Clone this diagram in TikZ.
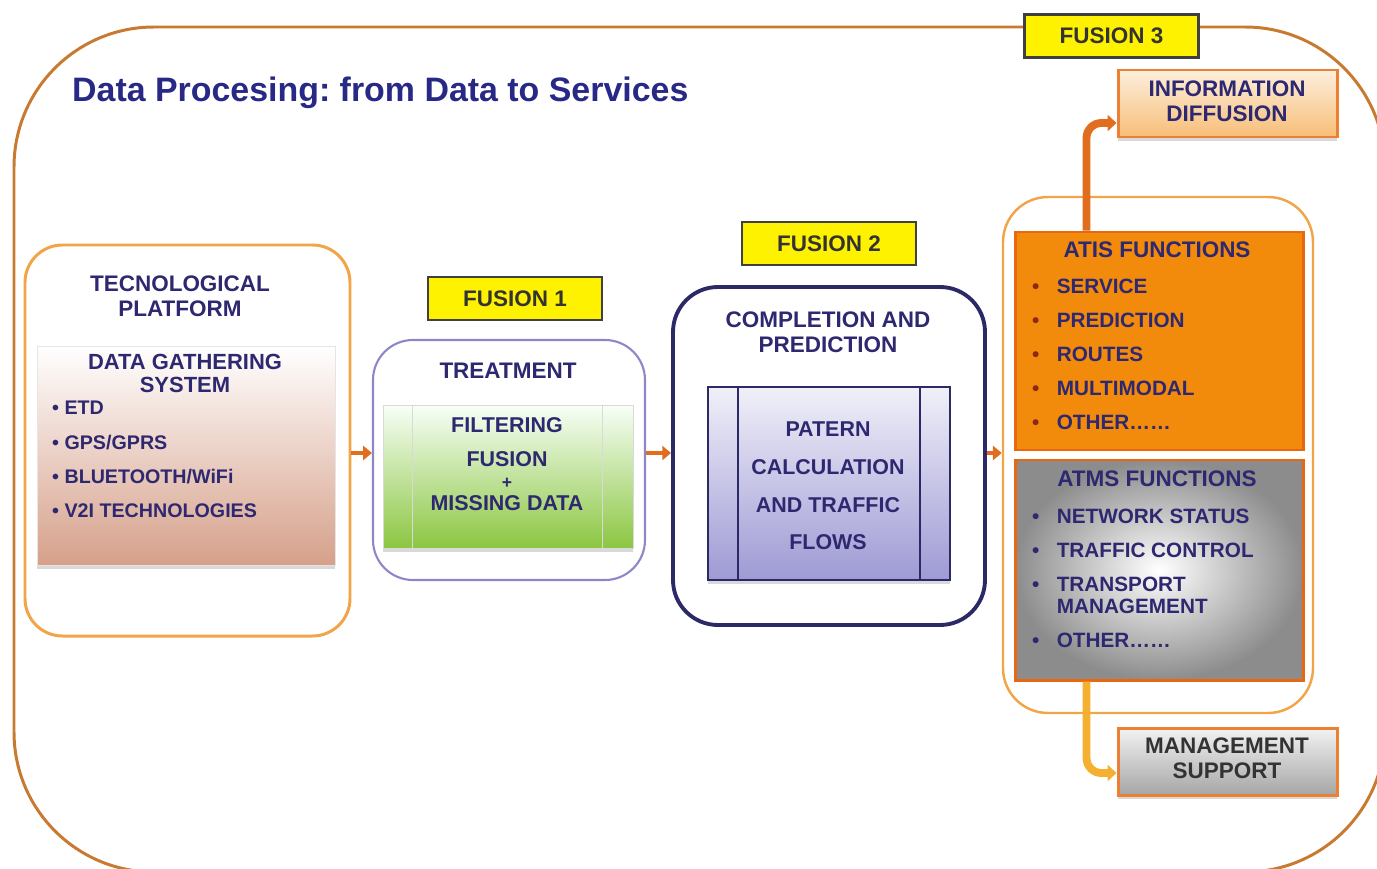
\documentclass[tikz,border=0pt]{standalone}
\usepackage{fontspec}
\setmainfont{Liberation Sans}
\usepackage{xcolor}
\usepackage{tikz}
\usetikzlibrary{shapes,arrows.meta,positioning,fit,shadows}
\frenchspacing

\definecolor{navy}{RGB}{46,40,112}
\definecolor{titleblue}{RGB}{40,40,135}
\definecolor{framebrown}{RGB}{200,122,48}
\definecolor{lightorange}{RGB}{242,164,72}
\definecolor{deeporange}{RGB}{232,104,16}
\definecolor{atisorange}{RGB}{242,138,12}
\definecolor{fusionyellow}{RGB}{255,242,0}
\definecolor{lilac}{RGB}{140,135,200}
\definecolor{darknavy}{RGB}{43,41,102}
\definecolor{rose}{RGB}{214,160,138}
\definecolor{leaf}{RGB}{140,198,66}
\definecolor{lavender}{RGB}{158,154,212}
\definecolor{arroworange}{RGB}{224,110,30}
\definecolor{peach}{RGB}{247,190,120}
\definecolor{bulletred}{RGB}{140,40,20}
\definecolor{amber}{RGB}{245,176,50}

\newcommand{\blt}[1][bulletred]{\makebox[14pt][l]{\textcolor{#1}{\textbullet}}}

\begin{document}
\begin{tikzpicture}[x=0.02cm, y=-0.02cm,
    box/.style={inner sep=0pt},
    heading/.style={font=\fontsize{12.8}{14.2}\selectfont\bfseries, text=navy, align=center},
    items/.style={font=\fontsize{11.8}{19.4}\selectfont\bfseries, text=navy, align=left, anchor=west},
    fusion/.style={rectangle, draw=black!75, line width=1.2pt, fill=fusionyellow, minimum width=3.48cm, minimum height=0.86cm, font=\fontsize{12.8}{14}\selectfont\bfseries, text=black!80},
    shade/.style={drop shadow={shadow xshift=0pt, shadow yshift=-2.5pt, opacity=0.3}},
    flow/.style={line width=2.6pt, arroworange, -{Triangle[length=5pt,width=8pt]}},
    riser/.style={line width=4.5pt, rounded corners=0.3cm, -{Triangle[length=5pt,width=9pt]}}]

    \useasboundingbox (0,0) rectangle (1377,869);

    \node[box, fit={(14,27) (1385,872)}, draw=framebrown, line width=1.7pt, rounded corners=2.8cm] (frame) {};
    \node[fusion] (fusion3) at (1111.5,36) {FUSION 3};
    \node[anchor=west, font=\fontsize{19.3}{22}\selectfont\bfseries, text=titleblue] (title) at (66,93) {Data Procesing: from Data to Services};

    \node[box, fit={(25,245) (350,636)}, draw=lightorange, line width=1.7pt, rounded corners=0.75cm] (platform) {};
    \node[heading] (platformtitle) at (180,296.5) {TECNOLOGICAL\\PLATFORM};
    \node[box, fit={(37,346) (335,565)}, draw=black!10, top color=white, bottom color=rose, shade] (gathering) {};
    \node[heading, font=\fontsize{12.5}{13}\selectfont\bfseries] (gatheringtitle) at (185,373.5) {DATA GATHERING\\SYSTEM};
    \node[items, font=\fontsize{11.2}{19.5}\selectfont\bfseries] (gatheringlist) at (46,459.5) {\textbullet{} ETD\\\textbullet{} GPS/GPRS\\\textbullet{} BLUETOOTH/WiFi\\\textbullet{} V2I TECHNOLOGIES};

    \node[fusion] (fusion1) at (515,298.5) {FUSION 1};
    \node[box, fit={(373,340) (645,580)}, draw=lilac, line width=1.2pt, rounded corners=0.8cm] (treatment) {};
    \node[heading] (treatmenttitle) at (508,371) {TREATMENT};
    \node[box, fit={(383,405) (633,548)}, draw=black!15, top color=green!3, bottom color=leaf, shade] (filtering) {};
    \draw[white!85!black, line width=0.8pt] ([xshift=0.6cm]filtering.north west) -- ([xshift=0.6cm]filtering.south west);
    \draw[white!85!black, line width=0.8pt] ([xshift=-0.62cm]filtering.north east) -- ([xshift=-0.62cm]filtering.south east);
    \node[heading, font=\fontsize{12.2}{12.5}\selectfont\bfseries] (filteringtext) at (507,464) {FILTERING\\[7pt]FUSION\\{\fontsize{10}{10}\selectfont +}\\MISSING DATA};

    \node[fusion] (fusion2) at (829,243.5) {FUSION 2};
    \node[box, fit={(673,287) (985,625)}, draw=darknavy, line width=2.2pt, rounded corners=0.9cm] (completion) {};
    \node[heading] (completiontitle) at (828,332.5) {COMPLETION AND\\PREDICTION};
    \node[box, fit={(708,387) (950,580)}, draw=darknavy, line width=1.1pt, top color=lavender!15, bottom color=lavender, shade] (pattern) {};
    \draw[darknavy, line width=1.1pt] ([xshift=0.62cm]pattern.north west) -- ([xshift=0.62cm]pattern.south west);
    \draw[darknavy, line width=1.1pt] ([xshift=-0.62cm]pattern.north east) -- ([xshift=-0.62cm]pattern.south east);
    \node[heading, font=\fontsize{12.2}{21.5}\selectfont\bfseries] (patterntext) at (828,486) {PATERN\\CALCULATION\\AND TRAFFIC\\FLOWS};

    \node[box, fit={(1003,197) (1313,713)}, draw=lightorange, line width=1.4pt, rounded corners=0.9cm] (functions) {};
    \node[box, fit={(1015,232) (1303,450)}, draw=deeporange, line width=1.7pt, fill=atisorange] (atis) {};
    \node[heading] (atistitle) at (1157,250) {ATIS FUNCTIONS};
    \node[items] (atislist) at (1026,354.5) {\blt SERVICE\\\blt PREDICTION\\\blt ROUTES\\\blt MULTIMODAL\\\blt OTHER\dots\dots};
    \node[box, fit={(1015,460) (1303,680)}, draw=deeporange, line width=1.7pt, inner color=white, outer color=black!45] (atms) {};
    \node[heading] (atmstitle) at (1157,479) {ATMS FUNCTIONS};
    \node[items] (atmslist) at (1026,578) {\blt[navy]NETWORK STATUS\\\blt[navy]TRAFFIC CONTROL\\\blt[navy]TRANSPORT\\[-7pt]\hspace*{14pt}MANAGEMENT\\\blt[navy]OTHER\dots\dots};

    \node[box, fit={(1118,70) (1337,137)}, draw=deeporange!85, line width=1.7pt, top color=peach!25, bottom color=peach, shade] (diffusion) {};
    \node[heading] (diffusiontext) at (1227,101.5) {INFORMATION\\DIFFUSION};
    \node[box, fit={(1118,728) (1337,795)}, draw=deeporange!85, line width=1.7pt, top color=black!5, bottom color=black!35, shade] (management) {};
    \node[heading, text=black!80] (managementtext) at (1227,758.5) {MANAGEMENT\\SUPPORT};

    \coordinate (flowline) at (0,453);
    \draw[flow] (platform.east |- flowline) -- (treatment.west |- flowline);
    \draw[flow] (treatment.east |- flowline) -- (completion.west |- flowline);
    \draw[flow] (completion.east |- flowline) -- (functions.west |- flowline);
    \draw[riser, arroworange] ([xshift=1.46cm]atis.north west) |- ([yshift=-0.39cm]diffusion.west);
    \draw[riser, amber] ([xshift=1.46cm]atms.south west) |- ([yshift=-0.23cm]management.west);
\end{tikzpicture}
\end{document}
